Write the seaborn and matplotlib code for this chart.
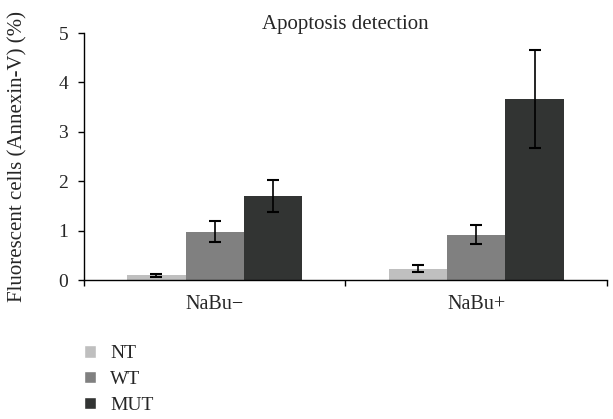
import matplotlib
matplotlib.use('Agg')
from matplotlib import pyplot as plt
from matplotlib.patches import Patch
import seaborn as sns
import pandas as pd

conditions = ['NaBu\u2212', 'NaBu+']
groups = ['NT', 'WT', 'MUT']
nt_vals = [0.10, 0.23]
wt_vals = [0.98, 0.92]
mut_vals = [1.70, 3.66]
nt_err = [0.03, 0.07]
wt_err = [0.22, 0.20]
mut_err = [0.32, 0.99]
colors = ['#bfbfbf', '#808080', '#323433']

rows = []
for g, vals, errs in zip(groups, [nt_vals, wt_vals, mut_vals], [nt_err, wt_err, mut_err]):
    for c, v, e in zip(conditions, vals, errs):
        rows.append([c, g, v, e])
df = pd.DataFrame(rows, columns=['Condition', 'Group', 'Value', 'Err'])

sns.set_style('white')
plt.rcParams['font.family'] = ['Liberation Serif', 'DejaVu Serif']

fig = plt.figure(figsize=(6.13, 4.19), dpi=100)
ax = fig.add_axes([0.137, 0.3317, 0.853, 0.5895])

sns.barplot(data=df, x='Condition', y='Value', hue='Group', order=conditions,
            hue_order=groups, palette=colors, width=0.67, errorbar=None,
            saturation=1, legend=False, linewidth=0, ax=ax)

# error bars from the bar positions
for patch, (_, r) in zip(ax.patches, df.iterrows()):
    xc = patch.get_x() + patch.get_width() / 2
    ax.errorbar(xc, r['Value'], yerr=r['Err'], fmt='none', ecolor='black',
                elinewidth=1.2, capsize=4, capthick=1.5)

ax.set_xlim(-0.5, 1.5)
ax.set_ylim(0, 5)
ax.set_yticks([0, 1, 2, 3, 4, 5])
ax.set_xticks([-0.5, 0.5, 1.5], minor=True)
ax.tick_params(axis='x', which='major', length=0, labelsize=14.5, pad=11)
ax.tick_params(axis='x', which='minor', length=4.5, direction='out', width=1,
               color='black', bottom=True)
ax.tick_params(axis='y', length=4.5, direction='out', width=1, color='black',
               labelsize=14, left=True, pad=7)
for s in ['top', 'right']:
    ax.spines[s].set_visible(False)
for s in ['left', 'bottom']:
    ax.spines[s].set_color('black')
    ax.spines[s].set_linewidth(1)
ax.set_xlabel('')
ax.set_ylabel('Fluorescent cells (Annexin-V) (%)', fontsize=15, labelpad=22)
ax.set_title('Apoptosis detection', fontsize=15, pad=3)

handles = [Patch(facecolor=c, label=g) for c, g in zip(colors, groups)]
fig.legend(handles=handles, loc='upper left', bbox_to_anchor=(0.137, 0.176),
           frameon=False, fontsize=14, handlelength=0.6, handleheight=0.6,
           labelspacing=0.45, handletextpad=0.75, borderpad=0, borderaxespad=0)

fig.savefig('out.png', dpi=100)
